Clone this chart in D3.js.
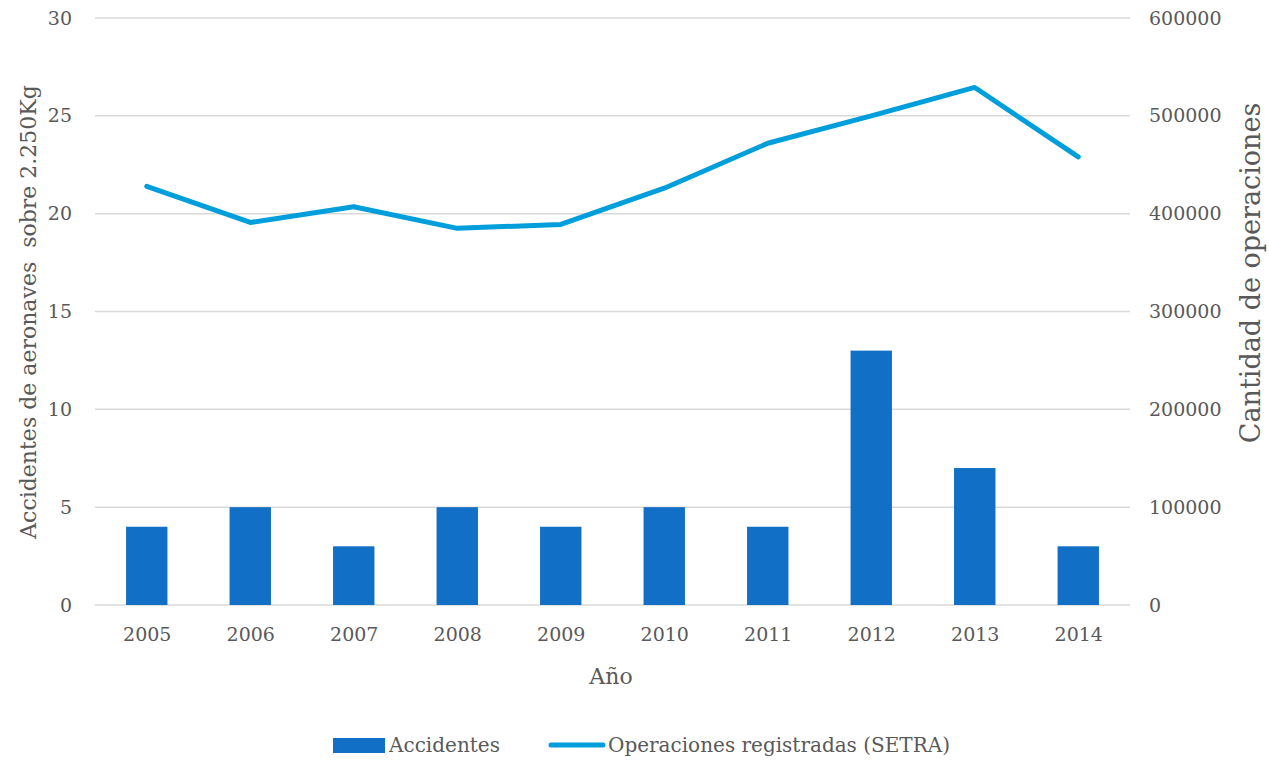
<!DOCTYPE html>
<html>
<head>
<meta charset="utf-8">
<script src="https://cdn.jsdelivr.net/npm/d3@7"></script>
<style>
  html, body { margin: 0; padding: 0; background: #fff; }
  svg text { font-family: "DejaVu Serif", "Liberation Serif", serif; fill: #595959; }
</style>
</head>
<body>
<svg id="chart" width="1269" height="760"></svg>
<script>
// Annual aircraft accidents (>2,250 kg) and registered operations
const years = ["2005", "2006", "2007", "2008", "2009", "2010", "2011", "2012", "2013", "2014"];
const accidents = [4, 5, 3, 5, 4, 5, 4, 13, 7, 3];
const operations = [428000, 391000, 407000, 385000, 389000, 426000, 472000, 500000, 529000, 458000];
const leftTicks = [0, 5, 10, 15, 20, 25, 30];
const rightTicks = [0, 100000, 200000, 300000, 400000, 500000, 600000];

const svg = d3.select("#chart");
const m = { left: 95, right: 1130, top: 18, bottom: 605 };
const FONT = "DejaVu Serif, Liberation Serif, serif";

const x = d3.scaleBand().domain(years).range([m.left, m.right])
  .paddingInner(0.6).paddingOuter(0.3);
const xc = d3.scalePoint().domain(years).range([m.left, m.right]).padding(0.5);
const yL = d3.scaleLinear().domain([0, 30]).range([m.bottom, m.top]);
const yR = d3.scaleLinear().domain([0, 600000]).range([m.bottom, m.top]);

// Horizontal gridlines
svg.append("g").selectAll("line").data(leftTicks).join("line")
  .attr("x1", m.left).attr("x2", m.right)
  .attr("y1", d => yL(d)).attr("y2", d => yL(d))
  .attr("stroke", "#d9d9d9").attr("stroke-width", 1.5);

function styleAxis(g) {
  g.select(".domain").remove();
  g.selectAll("text").style("font-size", "19px").attr("fill", "#595959")
    .style("font-family", FONT);
}

// Left axis labels
svg.append("g").attr("transform", `translate(${m.left},0)`)
  .call(d3.axisLeft(yL).tickValues(leftTicks).tickSize(0).tickPadding(23))
  .call(styleAxis);

// Right axis labels
svg.append("g").attr("transform", `translate(${m.right},0)`)
  .call(d3.axisRight(yR).tickValues(rightTicks).tickSize(0).tickPadding(19).tickFormat(d3.format("d")))
  .call(styleAxis);

// Bottom axis labels
svg.append("g").attr("transform", `translate(0,${m.bottom})`)
  .call(d3.axisBottom(xc).tickSize(0).tickPadding(23))
  .call(styleAxis);

// Bars
svg.append("g").selectAll("rect").data(years).join("rect")
  .attr("x", d => x(d)).attr("width", x.bandwidth())
  .attr("y", (d, i) => yL(accidents[i]))
  .attr("height", (d, i) => yL(0) - yL(accidents[i]))
  .attr("fill", "#1170c6");

// Operations line
const line = d3.line().x((d, i) => xc(years[i])).y(d => yR(d));
svg.append("path").datum(operations)
  .attr("d", line).attr("fill", "none")
  .attr("stroke", "#009fdb").attr("stroke-width", 5)
  .attr("stroke-linecap", "round").attr("stroke-linejoin", "round");

// Axis titles
svg.append("text").attr("x", 611).attr("y", 684).attr("text-anchor", "middle")
  .style("font-size", "22px").text("Año");
svg.append("text").attr("transform", "translate(36,312) rotate(-90)")
  .attr("text-anchor", "middle").style("font-size", "22px")
  .attr("xml:space", "preserve")
  .text("Accidentes de aeronaves  sobre 2.250Kg");
svg.append("text").attr("transform", "translate(1260,273) rotate(-90)")
  .attr("text-anchor", "middle").style("font-size", "27px")
  .text("Cantidad de operaciones");

// Legend
const lg = svg.append("g");
lg.append("rect").attr("x", 333).attr("y", 738).attr("width", 52).attr("height", 15).attr("fill", "#1170c6");
lg.append("text").attr("x", 389).attr("y", 752).style("font-size", "20px").text("Accidentes");
lg.append("line").attr("x1", 551).attr("x2", 603).attr("y1", 745).attr("y2", 745)
  .attr("stroke", "#009fdb").attr("stroke-width", 5).attr("stroke-linecap", "round");
lg.append("text").attr("x", 608).attr("y", 752).style("font-size", "20px").text("Operaciones registradas (SETRA)");
</script>
</body>
</html>
